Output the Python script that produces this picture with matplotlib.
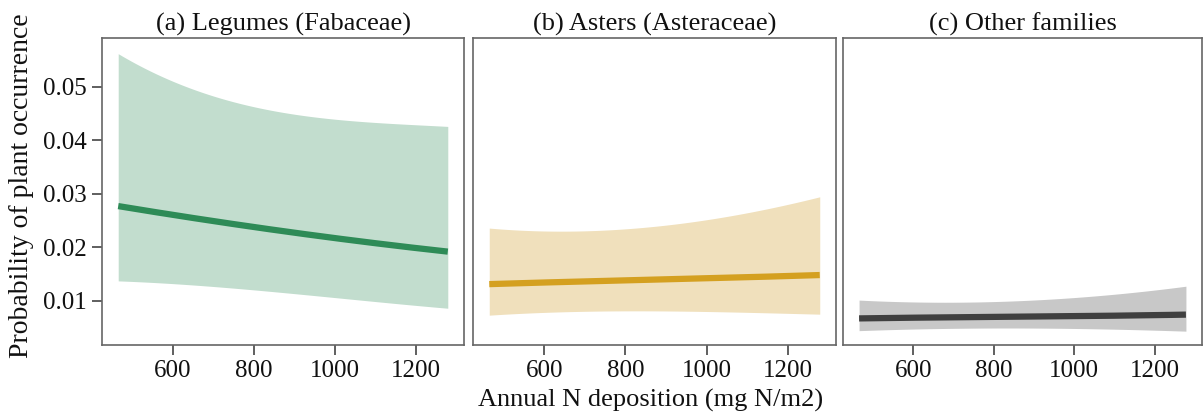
import matplotlib
matplotlib.use("Agg")
import matplotlib.pyplot as plt
import numpy as np

plt.rcParams['font.family'] = ['Liberation Serif', 'DejaVu Serif']

# Data
x_pts = [465, 600, 800, 1000, 1200, 1278]

legume_fit = [0.0277, 0.0260, 0.0238, 0.0217, 0.0198, 0.0192]
legume_lo = [0.0137, 0.0132, 0.0120, 0.0106, 0.0091, 0.0086]
legume_hi = [0.0561, 0.0512, 0.0460, 0.0441, 0.0428, 0.0426]

aster_fit = [0.0131, 0.0134, 0.0138, 0.0142, 0.0146, 0.0148]
aster_lo = [0.0073, 0.0078, 0.0081, 0.0080, 0.0076, 0.0075]
aster_hi = [0.0235, 0.0232, 0.0233, 0.0251, 0.0282, 0.0293]

other_fit = [0.0067, 0.0068, 0.0070, 0.0071, 0.0073, 0.0074]
other_lo = [0.0044, 0.0047, 0.0049, 0.0048, 0.0045, 0.0043]
other_hi = [0.0101, 0.0098, 0.0098, 0.0106, 0.0120, 0.0127]

titles = ["(a) Legumes (Fabaceae)", "(b) Asters (Asteraceae)", "(c) Other families"]
line_colors = ["#2e8b57", "#d4a020", "#3f3f3f"]
band_colors = ["#c2ddce", "#f0e0bc", "#c8c8c8"]
xticks = [600, 800, 1000, 1200]
yticks = [0.01, 0.02, 0.03, 0.04, 0.05]

series = [
    (legume_fit, legume_lo, legume_hi),
    (aster_fit, aster_lo, aster_hi),
    (other_fit, other_lo, other_hi),
]

W, H = 1203, 417
fig = plt.figure(figsize=(W / 100, H / 100), dpi=100)

panels_px = [(102, 464), (473, 836), (843, 1202)]
top_px, bot_px = 38, 345

xs = np.linspace(min(x_pts), max(x_pts), 200)
axes = []
for i, ((l, r), (fit, lo, hi)) in enumerate(zip(panels_px, series)):
    ax = fig.add_axes([l / W, 1 - bot_px / H, (r - l) / W, (bot_px - top_px) / H])

    def smooth(y):
        c = np.polyfit(x_pts, y, 3)
        return np.polyval(c, xs)

    ax.fill_between(xs, smooth(lo), smooth(hi), color=band_colors[i], lw=0)
    ax.plot(xs, smooth(fit), color=line_colors[i], lw=4.5, solid_capstyle='butt')
    ax.set_xlim(425, 1318)
    ax.set_ylim(0.00172, 0.0591)
    ax.set_xticks(xticks)
    ax.set_xticklabels([str(v) for v in xticks], fontsize=18)
    ax.set_yticks(yticks)
    if i == 0:
        ax.set_yticklabels([f"{v:.2f}" for v in yticks], fontsize=18)
    else:
        ax.tick_params(axis='y', left=False, labelleft=False)
    ax.tick_params(axis='both', direction='out', length=7, width=1.2, color='#444444',
                   labelcolor='#111111', pad=4)
    for s in ax.spines.values():
        s.set_color('#666666')
        s.set_linewidth(1.2)
    ax.set_title(titles[i], fontsize=19, pad=5, color='#111111')
    axes.append(ax)

fig.text(22 / W, 1 - 186 / H, "Probability of plant occurrence", rotation=90,
         ha='center', va='center', fontsize=20, color='#111111')
fig.text(651 / W, 1 - 400 / H, "Annual N deposition (mg N/m2)",
         ha='center', va='center', fontsize=19, color='#111111')

fig.savefig("out.png", dpi=100)
